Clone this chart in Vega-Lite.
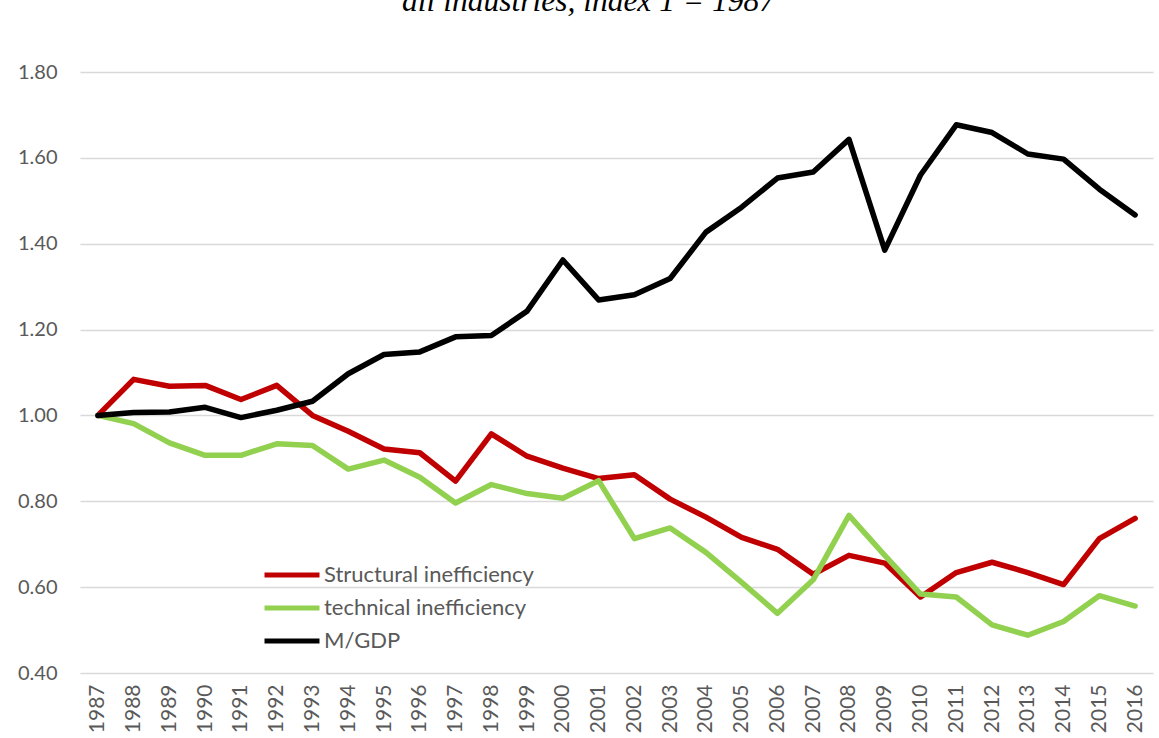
{
  "$schema": "https://vega.github.io/schema/vega-lite/v6.json",
  "width": 1073,
  "height": 601,
  "autosize": {"type": "none"},
  "padding": {"left": 80, "top": 72, "right": 6, "bottom": 65},
  "background": "#ffffff",
  "title": {
    "text": "all industries, index 1 = 1987",
    "font": "Liberation Serif",
    "fontStyle": "italic",
    "fontWeight": "normal",
    "fontSize": 31.5,
    "color": "#000000",
    "baseline": "alphabetic",
    "anchor": "middle",
    "dx": -28,
    "offset": 20
  },
  "config": {
    "view": {"stroke": null},
    "font": "Lato"
  },
  "data": {
    "values": [
      {"year": "1987", "series": "Structural inefficiency", "value": 1.0},
      {"year": "1988", "series": "Structural inefficiency", "value": 1.084},
      {"year": "1989", "series": "Structural inefficiency", "value": 1.068},
      {"year": "1990", "series": "Structural inefficiency", "value": 1.07},
      {"year": "1991", "series": "Structural inefficiency", "value": 1.037},
      {"year": "1992", "series": "Structural inefficiency", "value": 1.07},
      {"year": "1993", "series": "Structural inefficiency", "value": 1.0},
      {"year": "1994", "series": "Structural inefficiency", "value": 0.963},
      {"year": "1995", "series": "Structural inefficiency", "value": 0.922},
      {"year": "1996", "series": "Structural inefficiency", "value": 0.913},
      {"year": "1997", "series": "Structural inefficiency", "value": 0.847},
      {"year": "1998", "series": "Structural inefficiency", "value": 0.957},
      {"year": "1999", "series": "Structural inefficiency", "value": 0.905},
      {"year": "2000", "series": "Structural inefficiency", "value": 0.877},
      {"year": "2001", "series": "Structural inefficiency", "value": 0.853},
      {"year": "2002", "series": "Structural inefficiency", "value": 0.862},
      {"year": "2003", "series": "Structural inefficiency", "value": 0.805},
      {"year": "2004", "series": "Structural inefficiency", "value": 0.763},
      {"year": "2005", "series": "Structural inefficiency", "value": 0.716},
      {"year": "2006", "series": "Structural inefficiency", "value": 0.688},
      {"year": "2007", "series": "Structural inefficiency", "value": 0.63},
      {"year": "2008", "series": "Structural inefficiency", "value": 0.674},
      {"year": "2009", "series": "Structural inefficiency", "value": 0.656},
      {"year": "2010", "series": "Structural inefficiency", "value": 0.577},
      {"year": "2011", "series": "Structural inefficiency", "value": 0.634},
      {"year": "2012", "series": "Structural inefficiency", "value": 0.658},
      {"year": "2013", "series": "Structural inefficiency", "value": 0.634},
      {"year": "2014", "series": "Structural inefficiency", "value": 0.606},
      {"year": "2015", "series": "Structural inefficiency", "value": 0.713},
      {"year": "2016", "series": "Structural inefficiency", "value": 0.76},
      {"year": "1987", "series": "technical inefficiency", "value": 1.0},
      {"year": "1988", "series": "technical inefficiency", "value": 0.981},
      {"year": "1989", "series": "technical inefficiency", "value": 0.936},
      {"year": "1990", "series": "technical inefficiency", "value": 0.907},
      {"year": "1991", "series": "technical inefficiency", "value": 0.907},
      {"year": "1992", "series": "technical inefficiency", "value": 0.934},
      {"year": "1993", "series": "technical inefficiency", "value": 0.93},
      {"year": "1994", "series": "technical inefficiency", "value": 0.875},
      {"year": "1995", "series": "technical inefficiency", "value": 0.896},
      {"year": "1996", "series": "technical inefficiency", "value": 0.856},
      {"year": "1997", "series": "technical inefficiency", "value": 0.796},
      {"year": "1998", "series": "technical inefficiency", "value": 0.839},
      {"year": "1999", "series": "technical inefficiency", "value": 0.818},
      {"year": "2000", "series": "technical inefficiency", "value": 0.807},
      {"year": "2001", "series": "technical inefficiency", "value": 0.848},
      {"year": "2002", "series": "technical inefficiency", "value": 0.713},
      {"year": "2003", "series": "technical inefficiency", "value": 0.738},
      {"year": "2004", "series": "technical inefficiency", "value": 0.681},
      {"year": "2005", "series": "technical inefficiency", "value": 0.611},
      {"year": "2006", "series": "technical inefficiency", "value": 0.539},
      {"year": "2007", "series": "technical inefficiency", "value": 0.617},
      {"year": "2008", "series": "technical inefficiency", "value": 0.767},
      {"year": "2009", "series": "technical inefficiency", "value": 0.674},
      {"year": "2010", "series": "technical inefficiency", "value": 0.584},
      {"year": "2011", "series": "technical inefficiency", "value": 0.577},
      {"year": "2012", "series": "technical inefficiency", "value": 0.512},
      {"year": "2013", "series": "technical inefficiency", "value": 0.488},
      {"year": "2014", "series": "technical inefficiency", "value": 0.52},
      {"year": "2015", "series": "technical inefficiency", "value": 0.58},
      {"year": "2016", "series": "technical inefficiency", "value": 0.556},
      {"year": "1987", "series": "M/GDP", "value": 1.0},
      {"year": "1988", "series": "M/GDP", "value": 1.007},
      {"year": "1989", "series": "M/GDP", "value": 1.008},
      {"year": "1990", "series": "M/GDP", "value": 1.019},
      {"year": "1991", "series": "M/GDP", "value": 0.995},
      {"year": "1992", "series": "M/GDP", "value": 1.012},
      {"year": "1993", "series": "M/GDP", "value": 1.033},
      {"year": "1994", "series": "M/GDP", "value": 1.097},
      {"year": "1995", "series": "M/GDP", "value": 1.142},
      {"year": "1996", "series": "M/GDP", "value": 1.148},
      {"year": "1997", "series": "M/GDP", "value": 1.183},
      {"year": "1998", "series": "M/GDP", "value": 1.186},
      {"year": "1999", "series": "M/GDP", "value": 1.243},
      {"year": "2000", "series": "M/GDP", "value": 1.362},
      {"year": "2001", "series": "M/GDP", "value": 1.269},
      {"year": "2002", "series": "M/GDP", "value": 1.281},
      {"year": "2003", "series": "M/GDP", "value": 1.319},
      {"year": "2004", "series": "M/GDP", "value": 1.427},
      {"year": "2005", "series": "M/GDP", "value": 1.485},
      {"year": "2006", "series": "M/GDP", "value": 1.553},
      {"year": "2007", "series": "M/GDP", "value": 1.567},
      {"year": "2008", "series": "M/GDP", "value": 1.643},
      {"year": "2009", "series": "M/GDP", "value": 1.385},
      {"year": "2010", "series": "M/GDP", "value": 1.56},
      {"year": "2011", "series": "M/GDP", "value": 1.677},
      {"year": "2012", "series": "M/GDP", "value": 1.659},
      {"year": "2013", "series": "M/GDP", "value": 1.609},
      {"year": "2014", "series": "M/GDP", "value": 1.597},
      {"year": "2015", "series": "M/GDP", "value": 1.527},
      {"year": "2016", "series": "M/GDP", "value": 1.467}
    ]
  },
  "mark": {"type": "line", "strokeWidth": 5.5, "strokeCap": "round", "strokeJoin": "round"},
  "encoding": {
    "x": {
      "field": "year",
      "type": "ordinal",
      "scale": {"type": "point", "padding": 0.5},
      "axis": {
        "title": null,
        "labelAngle": -90,
        "labelAlign": "right",
        "labelBaseline": "middle",
        "labelFont": "Lato",
        "labelFontSize": 21,
        "labelColor": "#595959",
        "labelPadding": 11,
        "ticks": false,
        "domain": false,
        "grid": false
      }
    },
    "y": {
      "field": "value",
      "type": "quantitative",
      "scale": {"domain": [0.4, 1.8], "nice": false, "zero": false},
      "axis": {
        "title": null,
        "values": [0.4, 0.6, 0.8, 1.0, 1.2, 1.4, 1.6, 1.8],
        "format": ".2f",
        "labelFont": "Lato",
        "labelFontSize": 20,
        "labelColor": "#595959",
        "labelPadding": 23,
        "ticks": false,
        "domain": false,
        "grid": true,
        "gridColor": "#d9d9d9",
        "gridWidth": 1.5
      }
    },
    "color": {
      "field": "series",
      "type": "nominal",
      "sort": ["Structural inefficiency", "technical inefficiency", "M/GDP"],
      "scale": {
        "domain": ["Structural inefficiency", "technical inefficiency", "M/GDP"],
        "range": ["#c00000", "#92d050", "#000000"]
      },
      "legend": {
        "title": null,
        "orient": "none",
        "legendX": 190,
        "legendY": 481,
        "padding": 0,
        "symbolType": "M-1.41,0H1.41",
        "symbolSize": 1521,
        "symbolStrokeWidth": 5,
        "labelFont": "Lato",
        "labelFontSize": 22,
        "labelColor": "#595959",
        "labelOffset": 10,
        "rowPadding": 0,
        "labelLimit": 400
      }
    }
  }
}
